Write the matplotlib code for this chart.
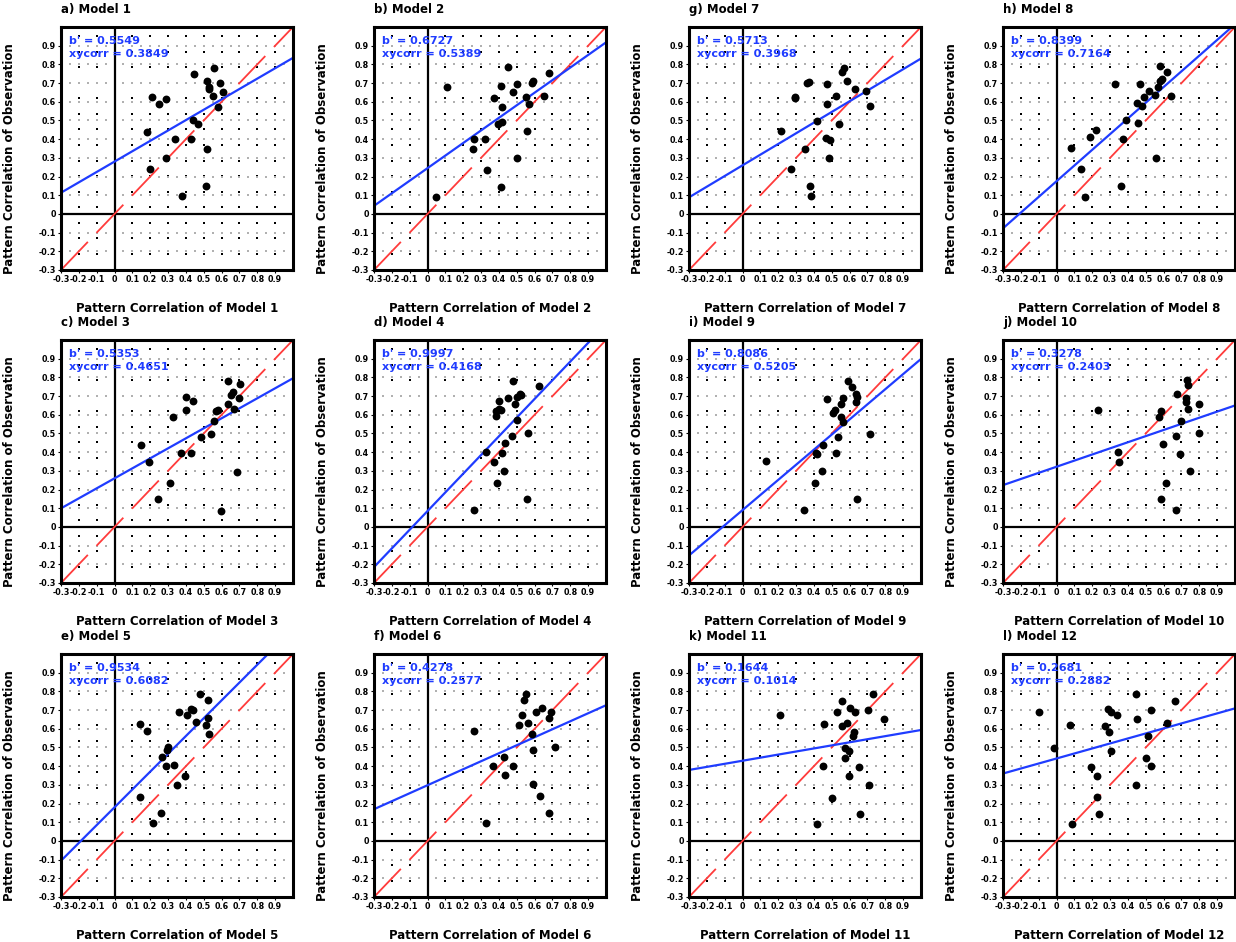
import numpy as np
import matplotlib
matplotlib.use("Agg")
import matplotlib.pyplot as plt

plt.rcParams['lines.scale_dashes'] = False
plt.rcParams['font.family'] = ['DejaVu Sans']

# ---------------- data ----------------
panel_labels = ["a) Model 1", "b) Model 2", "g) Model 7", "h) Model 8",
                "c) Model 3", "d) Model 4", "i) Model 9", "j) Model 10",
                "e) Model 5", "f) Model 6", "k) Model 11", "l) Model 12"]
model_names = ["Model 1", "Model 2", "Model 7", "Model 8",
               "Model 3", "Model 4", "Model 9", "Model 10",
               "Model 5", "Model 6", "Model 11", "Model 12"]
b_values = ["0.5549", "0.6727", "0.5713", "0.8399",
            "0.5353", "0.9997", "0.8086", "0.3278",
            "0.9534", "0.4278", "0.1644", "0.2681"]
xycorr_values = ["0.3849", "0.5389", "0.3968", "0.7164",
                 "0.4651", "0.4168", "0.5205", "0.2403",
                 "0.6082", "0.2577", "0.1014", "0.2882"]
intercepts = [0.28, 0.245, 0.26, 0.175,
              0.26, 0.085, 0.09, 0.322,
              0.18, 0.298, 0.429, 0.441]

model1_x = [0.445, 0.56, 0.52, 0.53, 0.59, 0.53, 0.61, 0.55, 0.58, 0.21, 0.25, 0.29, 0.44, 0.47, 0.18, 0.34, 0.43, 0.52, 0.29, 0.20, 0.51, 0.38]
model1_y = [0.75, 0.78, 0.71, 0.68, 0.70, 0.67, 0.65, 0.63, 0.57, 0.626, 0.59, 0.617, 0.50, 0.48, 0.44, 0.40, 0.40, 0.345, 0.30, 0.24, 0.147, 0.094]

model2_x = [0.45, 0.68, 0.59, 0.585, 0.50, 0.41, 0.11, 0.48, 0.37, 0.55, 0.65, 0.42, 0.57, 0.42, 0.395, 0.56, 0.26, 0.32, 0.255, 0.50, 0.335, 0.41, 0.045]
model2_y = [0.785, 0.754, 0.713, 0.70, 0.695, 0.686, 0.677, 0.654, 0.619, 0.627, 0.633, 0.574, 0.588, 0.494, 0.481, 0.446, 0.40, 0.40, 0.348, 0.298, 0.237, 0.146, 0.093]

model7_x = [0.57, 0.56, 0.585, 0.63, 0.69, 0.715, 0.36, 0.37, 0.475, 0.295, 0.295, 0.525, 0.475, 0.415, 0.54, 0.215, 0.465, 0.49, 0.35, 0.485, 0.27, 0.38, 0.385]
model7_y = [0.78, 0.757, 0.71, 0.67, 0.655, 0.575, 0.70, 0.708, 0.694, 0.628, 0.62, 0.633, 0.587, 0.498, 0.48, 0.445, 0.406, 0.397, 0.349, 0.299, 0.24, 0.148, 0.094]

model8_x = [0.578, 0.62, 0.59, 0.58, 0.57, 0.47, 0.33, 0.516, 0.49, 0.55, 0.64, 0.45, 0.48, 0.39, 0.455, 0.22, 0.19, 0.37, 0.08, 0.555, 0.135, 0.36, 0.16]
model8_y = [0.79, 0.76, 0.72, 0.71, 0.68, 0.697, 0.697, 0.66, 0.625, 0.637, 0.63, 0.592, 0.58, 0.503, 0.485, 0.449, 0.41, 0.40, 0.352, 0.30, 0.239, 0.149, 0.092]

model3_x = [0.634, 0.705, 0.653, 0.666, 0.403, 0.437, 0.696, 0.634, 0.67, 0.403, 0.568, 0.578, 0.328, 0.555, 0.484, 0.54, 0.15, 0.37, 0.43, 0.193, 0.687, 0.31, 0.244, 0.597]
model3_y = [0.78, 0.764, 0.707, 0.72, 0.694, 0.673, 0.689, 0.658, 0.631, 0.623, 0.619, 0.623, 0.587, 0.569, 0.483, 0.497, 0.44, 0.394, 0.394, 0.345, 0.295, 0.233, 0.148, 0.086]

model4_x = [0.478, 0.627, 0.516, 0.526, 0.453, 0.50, 0.398, 0.488, 0.40, 0.386, 0.41, 0.386, 0.50, 0.564, 0.474, 0.436, 0.325, 0.42, 0.373, 0.426, 0.39, 0.56, 0.26]
model4_y = [0.78, 0.752, 0.709, 0.707, 0.69, 0.695, 0.674, 0.656, 0.633, 0.62, 0.624, 0.592, 0.57, 0.503, 0.485, 0.449, 0.40, 0.396, 0.348, 0.298, 0.235, 0.15, 0.089]

model9_x = [0.59, 0.613, 0.635, 0.64, 0.635, 0.475, 0.565, 0.549, 0.516, 0.506, 0.549, 0.562, 0.715, 0.534, 0.451, 0.41, 0.42, 0.525, 0.129, 0.446, 0.405, 0.64, 0.344]
model9_y = [0.78, 0.75, 0.709, 0.696, 0.67, 0.687, 0.69, 0.66, 0.625, 0.611, 0.586, 0.563, 0.497, 0.48, 0.439, 0.398, 0.389, 0.398, 0.35, 0.30, 0.234, 0.151, 0.089]

model10_x = [0.729, 0.734, 0.677, 0.725, 0.725, 0.80, 0.586, 0.734, 0.573, 0.235, 0.70, 0.797, 0.672, 0.598, 0.347, 0.69, 0.351, 0.748, 0.611, 0.588, 0.672]
model10_y = [0.787, 0.76, 0.711, 0.688, 0.67, 0.658, 0.618, 0.631, 0.586, 0.627, 0.568, 0.502, 0.484, 0.443, 0.401, 0.392, 0.349, 0.299, 0.233, 0.15, 0.09]

model5_x = [0.478, 0.524, 0.43, 0.44, 0.363, 0.404, 0.524, 0.454, 0.141, 0.515, 0.181, 0.528, 0.298, 0.293, 0.265, 0.287, 0.333, 0.394, 0.348, 0.141, 0.259, 0.215]
model5_y = [0.784, 0.755, 0.707, 0.698, 0.689, 0.675, 0.657, 0.636, 0.627, 0.618, 0.588, 0.57, 0.502, 0.489, 0.448, 0.40, 0.404, 0.35, 0.30, 0.2375, 0.148, 0.095]

model6_x = [0.554, 0.541, 0.532, 0.64, 0.608, 0.69, 0.68, 0.564, 0.512, 0.262, 0.583, 0.717, 0.593, 0.426, 0.369, 0.478, 0.434, 0.593, 0.631, 0.679, 0.325]
model6_y = [0.785, 0.755, 0.674, 0.709, 0.691, 0.691, 0.656, 0.629, 0.62, 0.59, 0.573, 0.502, 0.488, 0.449, 0.40, 0.399, 0.351, 0.303, 0.239, 0.151, 0.094]

model11_x = [0.731, 0.556, 0.604, 0.63, 0.529, 0.705, 0.212, 0.792, 0.455, 0.556, 0.586, 0.622, 0.617, 0.576, 0.595, 0.576, 0.451, 0.654, 0.599, 0.71, 0.503, 0.657, 0.42]
model11_y = [0.784, 0.75, 0.709, 0.688, 0.688, 0.70, 0.673, 0.652, 0.623, 0.616, 0.629, 0.584, 0.5625, 0.498, 0.482, 0.445, 0.40, 0.393, 0.346, 0.298, 0.232, 0.146, 0.089]

model12_x = [0.444, 0.664, 0.531, 0.288, 0.304, 0.336, -0.10, 0.45, 0.076, 0.617, 0.273, 0.294, 0.512, -0.015, 0.304, 0.50, 0.194, 0.531, 0.228, 0.444, 0.228, 0.237, 0.089]
model12_y = [0.784, 0.75, 0.70, 0.704, 0.691, 0.673, 0.688, 0.652, 0.62, 0.629, 0.616, 0.584, 0.5625, 0.498, 0.482, 0.445, 0.396, 0.40, 0.346, 0.298, 0.236, 0.146, 0.093]

xs_all = [model1_x, model2_x, model7_x, model8_x,
          model3_x, model4_x, model9_x, model10_x,
          model5_x, model6_x, model11_x, model12_x]
ys_all = [model1_y, model2_y, model7_y, model8_y,
          model3_y, model4_y, model9_y, model10_y,
          model5_y, model6_y, model11_y, model12_y]

tick_vals = [-0.3, -0.2, -0.1, 0, 0.1, 0.2, 0.3, 0.4, 0.5, 0.6, 0.7, 0.8, 0.9]
tick_labels = ["-0.3", "-0.2", "-0.1", "0", "0.1", "0.2", "0.3", "0.4", "0.5", "0.6", "0.7", "0.8", "0.9"]

# ---------------- layout ----------------
W, H = 1236, 942
fig = plt.figure(figsize=(W / 100, H / 100), dpi=100)
fig.patch.set_facecolor('white')

col_left_px = [61, 374, 689, 1003]
row_top_px = [27, 340, 654]
aw_px, ah_px = 232, 243

BLUE = '#1f3cff'
RED = '#ff3b3b'

for i in range(12):
    r, c = divmod(i, 4)
    left = col_left_px[c] / W
    bottom = 1 - (row_top_px[r] + ah_px) / H
    ax = fig.add_axes([left, bottom, aw_px / W, ah_px / H])
    ax.set_xlim(-0.3, 1.0)
    ax.set_ylim(-0.3, 1.0)

    # background dot lattice (decorative)
    gx = np.arange(-0.2, 0.95, 0.1)
    gy = 0.952 - np.arange(15) * 0.0833
    GX, GY = np.meshgrid(gx, gy)
    ax.scatter(GX.ravel(), GY.ravel(), s=1.6, marker='s', color='black',
               linewidths=0, zorder=1)
    hx = np.arange(-0.25, 1.0, 0.05)
    hy = np.arange(-0.2, 0.95, 0.1)
    HX, HY = np.meshgrid(hx, hy)
    ax.scatter(HX.ravel(), HY.ravel(), s=1.2, marker='s', color='#b0b0b0',
               linewidths=0, zorder=1)

    # zero lines
    ax.axhline(0, color='black', lw=1.6, zorder=2)
    ax.axvline(0, color='black', lw=1.6, zorder=2)

    # 1:1 dashed red line
    diag = np.array([-0.3, 1.0])
    ax.plot(diag, diag, color=RED, lw=1.3, linestyle=(0, (28, 9)), zorder=3)

    # regression line
    b = float(b_values[i])
    lx = np.array([-0.3, 1.0])
    ax.plot(lx, intercepts[i] + b * lx, color=BLUE, lw=1.6, zorder=4)

    # points
    ax.scatter(xs_all[i], ys_all[i], s=32, color='black', linewidths=0, zorder=5)

    # text
    ax.text(0.035, 0.944, "b' = " + b_values[i], transform=ax.transAxes,
            color=BLUE, fontsize=8, fontweight='bold', va='center', ha='left', zorder=6)
    ax.text(0.035, 0.889, "xycorr = " + xycorr_values[i], transform=ax.transAxes,
            color=BLUE, fontsize=8, fontweight='bold', va='center', ha='left', zorder=6)

    ax.text(0.0, 1.045, panel_labels[i], transform=ax.transAxes,
            fontsize=8.5, fontweight='bold', va='bottom', ha='left')

    ax.set_xticks(tick_vals)
    ax.set_xticklabels(tick_labels)
    ax.set_yticks(tick_vals)
    ax.set_yticklabels(tick_labels)
    ax.tick_params(axis='both', length=2, width=0.8, pad=1.5, labelsize=5.8)
    for lab in ax.get_xticklabels() + ax.get_yticklabels():
        lab.set_fontweight('bold')

    ax.set_xlabel("Pattern Correlation of " + model_names[i], fontsize=8.5,
                  fontweight='bold')
    ax.xaxis.set_label_coords(0.5, -0.13)
    ax.set_ylabel("Pattern Correlation of Observation", fontsize=8.5,
                  fontweight='bold')
    ax.yaxis.set_label_coords(-0.195, 0.46)

    for sp in ax.spines.values():
        sp.set_linewidth(2.2)
        sp.set_zorder(7)

fig.savefig("out.png", dpi=100, facecolor='white')
